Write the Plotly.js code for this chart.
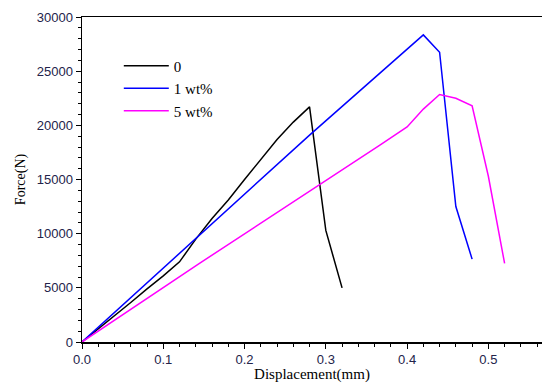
<!DOCTYPE html>
<html><head><meta charset="utf-8">
<script src="https://cdn.plot.ly/plotly-3.0.1.min.js"></script>
<style>html,body{margin:0;padding:0;background:#fff}</style>
</head><body>
<div id="chart" style="width:542px;height:383px"></div>
<script>
const seriesNames = ["0", "1 wt%", "5 wt%"];
const x0 = [0, 0.02, 0.04, 0.06, 0.08, 0.10, 0.12, 0.14, 0.16, 0.18, 0.20, 0.22, 0.24, 0.26, 0.28, 0.30, 0.32];
const y0 = [0, 1200, 2450, 3650, 4900, 6100, 7400, 9500, 11400, 13100, 15000, 16900, 18700, 20300, 21700, 10300, 5000];
const x1 = [0, 0.28, 0.42, 0.44, 0.46, 0.48];
const y1 = [0, 19100, 28350, 26750, 12500, 7650];
const x5 = [0, 0.145, 0.367, 0.40, 0.42, 0.44, 0.46, 0.48, 0.50, 0.52];
const y5 = [0, 7280, 18200, 19850, 21500, 22850, 22500, 21800, 15300, 7250];
const colors = ["#000000", "#0000ff", "#ff00ff"];

const traces = [[x0, y0], [x1, y1], [x5, y5]].map((d, i) => ({
  x: d[0], y: d[1], type: "scatter", mode: "lines", name: seriesNames[i],
  line: {color: colors[i], width: 1.5}
}));

const tickFont = {family: "Liberation Sans, Arial, sans-serif", size: 13, color: "#23234a"};
const layout = {
  width: 542, height: 383,
  margin: {l: 82, r: 0, t: 17, b: 41},
  paper_bgcolor: "#fff", plot_bgcolor: "#fff",
  showlegend: true,
  legend: {x: 0.08, y: 0.9, xanchor: "left", yanchor: "top", bgcolor: "rgba(0,0,0,0)",
    itemwidth: 45,
    font: {family: "Liberation Serif, Times New Roman, serif", size: 15, color: "#000"},
    tracegroupgap: 0},
  xaxis: {
    range: [0, 0.566], showgrid: false, zeroline: false,
    showline: true, linecolor: "#000", linewidth: 1.5, mirror: true,
    ticks: "outside", ticklen: 5, tickwidth: 1, tickcolor: "#000",
    tickvals: [0, 0.1, 0.2, 0.3, 0.4, 0.5], ticktext: ["0.0", "0.1", "0.2", "0.3", "0.4", "0.5"],
    minor: {dtick: 0.02, ticks: "outside", ticklen: 3, tickcolor: "#000"},
    tickfont: tickFont,
    title: {text: "Displacement(mm)", standoff: 6, font: {family: "Liberation Serif, Times New Roman, serif", size: 15, color: "#000"}}
  },
  yaxis: {
    range: [0, 30000], showgrid: false, zeroline: false,
    showline: true, linecolor: "#000", linewidth: 1.5,
    ticks: "outside", ticklen: 5, tickwidth: 1, tickcolor: "#000",
    dtick: 5000, tickformat: "d",
    minor: {dtick: 1000, ticks: "outside", ticklen: 3, tickcolor: "#000"},
    tickfont: tickFont,
    title: {text: "Force(N)", standoff: 8, font: {family: "Liberation Serif, Times New Roman, serif", size: 14, color: "#000"}}
  }
};
Plotly.newPlot("chart", traces, layout, {displayModeBar: false, staticPlot: true});
</script>
</body></html>
